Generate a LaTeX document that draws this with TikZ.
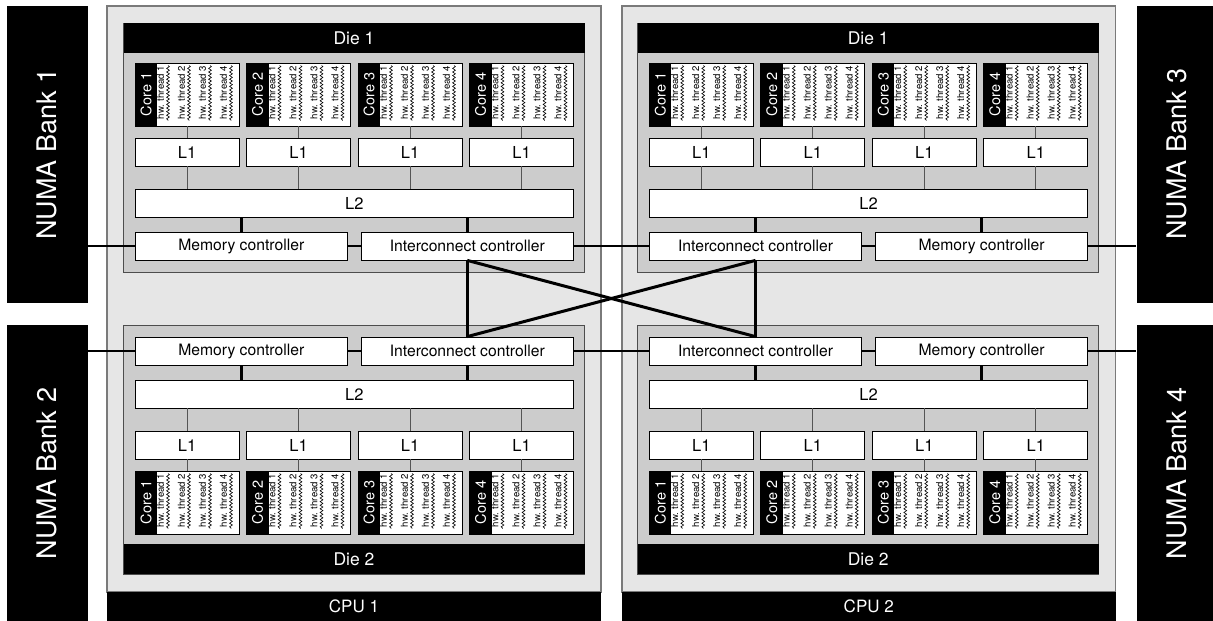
\documentclass[tikz,border=0pt]{standalone}
\usepackage{fontspec}
\setmainfont{TeX Gyre Heros}
\usetikzlibrary{decorations.pathmorphing}
\definecolor{cpuF}{HTML}{E6E6E6}
\definecolor{cpuB}{HTML}{7A7A7A}
\definecolor{dieF}{HTML}{CCCCCC}
\definecolor{dieB}{HTML}{4D4D4D}
\definecolor{thinC}{HTML}{555555}
\tikzset{
  cpubody/.style={fill=cpuF,draw=cpuB,line width=1.2pt,minimum width=494,minimum height=586,inner sep=0},
  cpulbl/.style={fill=black,text=white,minimum width=494,minimum height=29,inner sep=0,font=\fontsize{17}{19}\selectfont},
  numabox/.style={fill=black,text=white,minimum width=80.5,minimum height=296.5,inner sep=0,font=\fontsize{27}{29}\selectfont},
  diebox/.style={fill=dieF,draw=dieB,line width=1pt,minimum width=461,minimum height=249,inner sep=0},
  diehdr/.style={fill=black,text=white,minimum width=461,minimum height=30,inner sep=0,font=\fontsize{17.5}{19}\selectfont},
  wbox/.style={fill=white,draw=black,line width=0.8pt,inner sep=0,minimum height=28,font=\fontsize{16.5}{18}\selectfont},
  l2box/.style={wbox,minimum width=438.5},
  l1box/.style={wbox,minimum width=104},
  ctrl/.style={wbox,minimum width=212.5,font=\fontsize{15.7}{17}\selectfont},
  corebox/.style={fill=white,draw=black,line width=0.8pt,minimum width=104,minimum height=63,inner sep=0},
  corelbl/.style={fill=black,text=white,minimum width=22,minimum height=63,inner sep=0,font=\fontsize{14.5}{16}\selectfont},
  thr/.style={inner sep=0,font=\fontsize{9.6}{11}\selectfont},
  wavy/.style={draw=black,line width=0.6pt,decorate,decoration={snake,amplitude=1.4pt,segment length=3.6pt}},
  thinln/.style={draw=thinC,line width=0.9pt},
  thkln/.style={draw=black,line width=2.6pt},
  xln/.style={draw=black,line width=3pt},
  numaln/.style={draw=black,line width=2.4pt}
}
\newcommand{\MkDie}[7]{%
\pgfmathsetmacro{\DXv}{#2}%
\pgfmathsetmacro{\DYv}{#3}%
\ifnum#4=0
 \pgfmathsetmacro{\HYv}{\DYv+15}\pgfmathsetmacro{\CYv}{\DYv+71.5}\pgfmathsetmacro{\LYv}{\DYv+129}\pgfmathsetmacro{\LLYv}{\DYv+180}\pgfmathsetmacro{\KYv}{\DYv+223}%
\else
 \pgfmathsetmacro{\HYv}{\DYv+234}\pgfmathsetmacro{\CYv}{\DYv+177.5}\pgfmathsetmacro{\LYv}{\DYv+120}\pgfmathsetmacro{\LLYv}{\DYv+69}\pgfmathsetmacro{\KYv}{\DYv+26}%
\fi
\node[diebox] (#1) at (\DXv+230.5,\DYv+124.5) {};
\node[diehdr] (#1h) at (\DXv+230.5,\HYv) {#5};
\node[l2box] (#1L) at (\DXv+230.75,\LLYv) {L2};
\node[ctrl] (#1cl) at (\DXv+117.75,\KYv) {#6};
\node[ctrl] (#1cr) at (\DXv+343.75,\KYv) {#7};
\foreach \i in {1,...,4}{
  \pgfmathsetmacro{\CXv}{\DXv+63.5+(\i-1)*111.5}
  \node[l1box] (#1l\i) at (\CXv,\LYv) {L1};
  \node[corebox] (#1c\i) at (\CXv,\CYv) {};
  \node[corelbl] (#1k\i) at (\CXv-41,\CYv) {\rotatebox{90}{Core \i}};
  \foreach \j in {1,...,4}{
    \pgfmathsetmacro{\TXv}{\CXv-26.5+(\j-1)*21}
    \node[thr] (#1t\i\j) at (\TXv,\CYv-2) {\rotatebox{90}{hw. thread \j}};
    \draw[wavy] (\TXv+7.5,\CYv-29) -- (\TXv+7.5,\CYv+26);
  }
  \ifnum#4=0
    \draw[thinln] (#1c\i) -- (#1l\i);
    \draw[thinln] (#1l\i) -- (#1l\i.south |- #1L.north);
  \else
    \draw[thinln] (#1c\i) -- (#1l\i);
    \draw[thinln] (#1l\i) -- (#1l\i.north |- #1L.south);
  \fi
}
\ifnum#4=0
  \draw[thkln] (#1cl) -- (#1cl.north |- #1L.south);
  \draw[thkln] (#1cr) -- (#1cr.north |- #1L.south);
\else
  \draw[thkln] (#1cl) -- (#1cl.south |- #1L.north);
  \draw[thkln] (#1cr) -- (#1cr.south |- #1L.north);
\fi
\draw[thkln] (#1cl) -- (#1cr);
}
\begin{document}
\begin{tikzpicture}[x=1pt,y=-1pt]
\useasboundingbox (0,0) rectangle (1213,621);
% CPUs
\node[cpubody] (P1) at (354,299) {};
\node[cpulbl] (P1l) at (354,606.5) {CPU 1};
\node[cpubody,minimum width=493.5] (P2) at (868.75,299) {};
\node[cpulbl,minimum width=493.5] (P2l) at (868.75,606.5) {CPU 2};
% NUMA banks
\node[numabox] (N1) at (47.25,154.25) {\rotatebox{90}{NUMA Bank 1}};
\node[numabox,minimum height=297] (N2) at (47.25,473.5) {\rotatebox{90}{NUMA Bank 2}};
\node[numabox] (N3) at (1176.75,154.25) {\rotatebox{90}{NUMA Bank 3}};
\node[numabox,minimum height=297] (N4) at (1176.75,473.5) {\rotatebox{90}{NUMA Bank 4}};
% Dies
\MkDie{A}{123.5}{23}{0}{Die 1}{Memory controller}{Interconnect controller}
\MkDie{B}{123.5}{325}{1}{Die 2}{Memory controller}{Interconnect controller}
\MkDie{C}{637.75}{23}{0}{Die 1}{Interconnect controller}{Memory controller}
\MkDie{D}{637.75}{325}{1}{Die 2}{Interconnect controller}{Memory controller}
% interconnects
\draw[thkln] (Acr) -- (Ccl);
\draw[thkln] (Bcr) -- (Dcl);
\draw[xln] (Acr.south) -- (Bcr.north);
\draw[xln] (Ccl.south) -- (Dcl.north);
\draw[xln] (Acr.south) -- (Dcl.north);
\draw[xln] (Bcr.north) -- (Ccl.south);
% memory links
\draw[numaln] (N1.east |- Acl.west) -- (Acl.west);
\draw[numaln] (N2.east |- Bcl.west) -- (Bcl.west);
\draw[numaln] (Ccr.east) -- (N3.west |- Ccr.east);
\draw[numaln] (Dcr.east) -- (N4.west |- Dcr.east);
\end{tikzpicture}
\end{document}
